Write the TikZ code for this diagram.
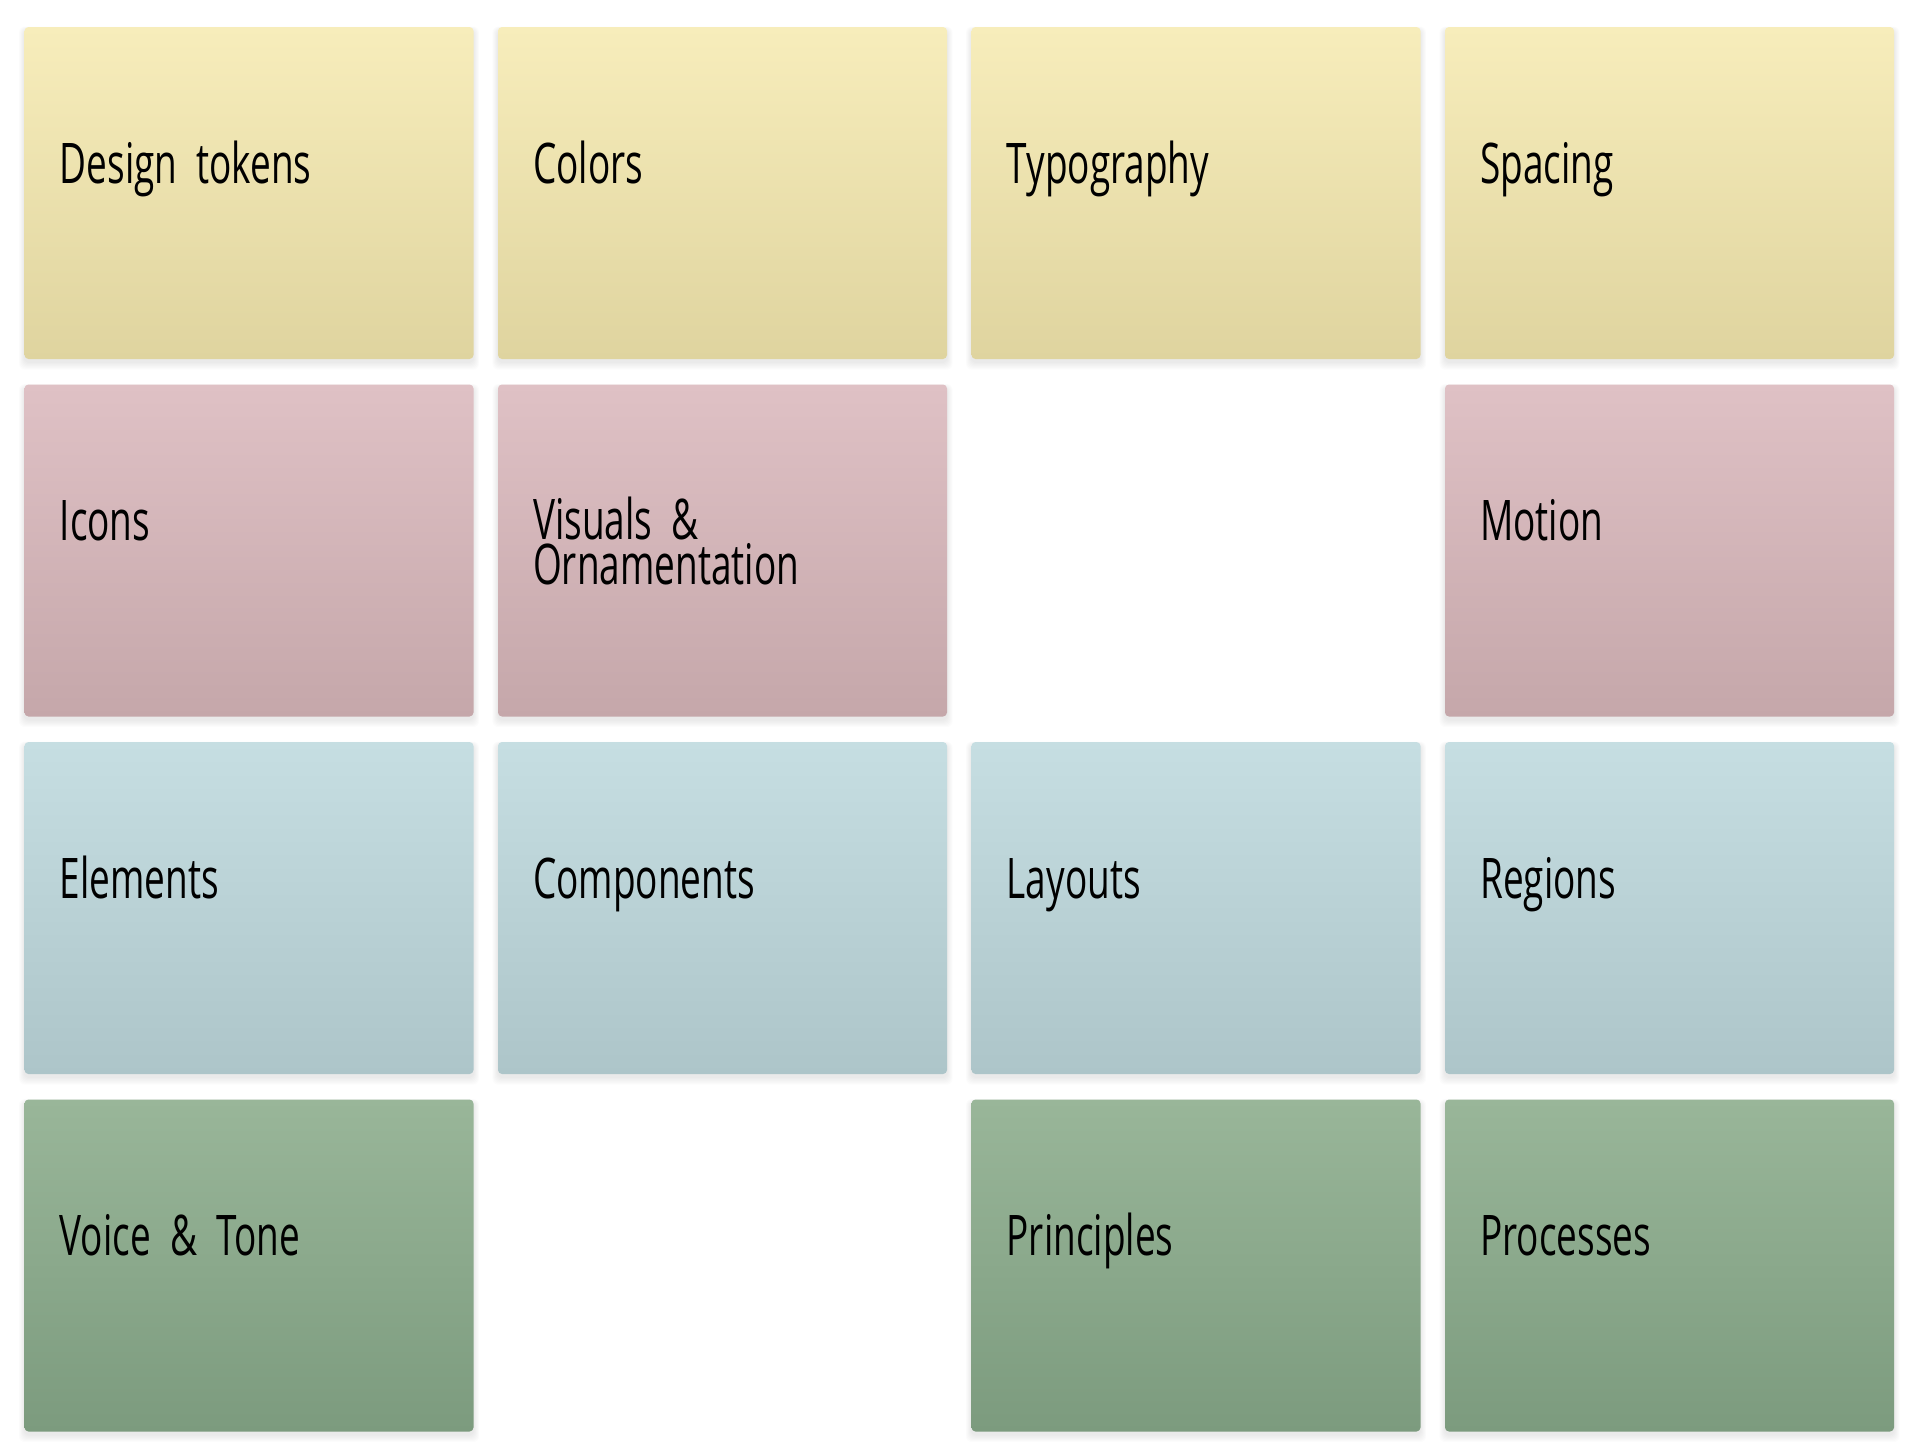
\documentclass[tikz,border=0pt]{standalone}
\usepackage{fontspec}
\newfontfamily\hand[FakeStretch=0.66]{Open Sans}
\definecolor{yTop}{HTML}{F7EDBB}\definecolor{yBot}{HTML}{DFD49F}
\definecolor{pTop}{HTML}{DFC1C5}\definecolor{pBot}{HTML}{C5A7AA}
\definecolor{bTop}{HTML}{C6DEE2}\definecolor{bBot}{HTML}{ADC5C9}
\definecolor{gTop}{HTML}{99B699}\definecolor{gBot}{HTML}{7C9B7E}
\tikzset{
  card/.style={rectangle, rounded corners=4pt, minimum width=449pt, minimum height=332pt,
    inner sep=0pt, outer sep=0pt, anchor=north west},
  yellowcard/.style={card, top color=yTop, bottom color=yBot},
  pinkcard/.style={card, top color=pTop, bottom color=pBot},
  bluecard/.style={card, top color=bTop, bottom color=bBot},
  greencard/.style={card, top color=gTop, bottom color=gBot},
  label/.style={anchor=base west, inner sep=0pt, align=left, text=black,
    font=\hand\fontsize{56}{45}\selectfont},
}
\begin{document}
\begin{tikzpicture}[x=1pt,y=-1pt]
\fill[white] (0,0) rectangle (1922,1452);
\useasboundingbox (0,0) rectangle (1922,1452);
% shadows
\foreach \c/\r in {0/0,1/0,2/0,3/0,0/1,1/1,3/1,0/2,1/2,2/2,3/2,0/3,2/3,3/3}{
  \pgfmathsetmacro{\xx}{24.5+473.5*\c}
  \pgfmathsetmacro{\yy}{27+357.5*\r}
  \foreach \i in {1,...,7}{
    \fill[black, opacity=0.012, rounded corners=6pt]
      (\xx-\i*0.8, \yy+3-\i*0.5) rectangle (\xx+449+\i*0.8, \yy+332+3+\i*1.1);
  }
}
% cards
\node[yellowcard] (c00) at (24.5,27) {};
\node[yellowcard] (c10) at (498,27) {};
\node[yellowcard] (c20) at (971.5,27) {};
\node[yellowcard] (c30) at (1445,27) {};
\node[pinkcard] (c01) at (24.5,384.5) {};
\node[pinkcard] (c11) at (498,384.5) {};
\node[pinkcard] (c31) at (1445,384.5) {};
\node[bluecard] (c02) at (24.5,742) {};
\node[bluecard] (c12) at (498,742) {};
\node[bluecard] (c22) at (971.5,742) {};
\node[bluecard] (c32) at (1445,742) {};
\node[greencard] (c03) at (24.5,1099.5) {};
\node[greencard] (c23) at (971.5,1099.5) {};
\node[greencard] (c33) at (1445,1099.5) {};
% labels
\node[label] (t00) at ([shift={(35,156)}]c00.north west) {Design\ \ tokens};
\node[label] (t10) at ([shift={(35,156)}]c10.north west) {Colors};
\node[label] (t20) at ([shift={(35,156)}]c20.north west) {Typography};
\node[label] (t30) at ([shift={(35,156)}]c30.north west) {Spacing};
\node[label] (t01) at ([shift={(35,156)}]c01.north west) {Icons};
\node[label] (t11) at ([shift={(35,200)}]c11.north west) {Visuals\ \ \&\\Ornamentation};
\node[label] (t31) at ([shift={(35,156)}]c31.north west) {Motion};
\node[label] (t02) at ([shift={(35,156)}]c02.north west) {Elements};
\node[label] (t12) at ([shift={(35,156)}]c12.north west) {Components};
\node[label] (t22) at ([shift={(35,156)}]c22.north west) {Layouts};
\node[label] (t32) at ([shift={(35,156)}]c32.north west) {Regions};
\node[label] (t03) at ([shift={(35,156)}]c03.north west) {Voice\ \ \&\ \ Tone};
\node[label] (t23) at ([shift={(35,156)}]c23.north west) {Principles};
\node[label] (t33) at ([shift={(35,156)}]c33.north west) {Processes};
\end{tikzpicture}
\end{document}
